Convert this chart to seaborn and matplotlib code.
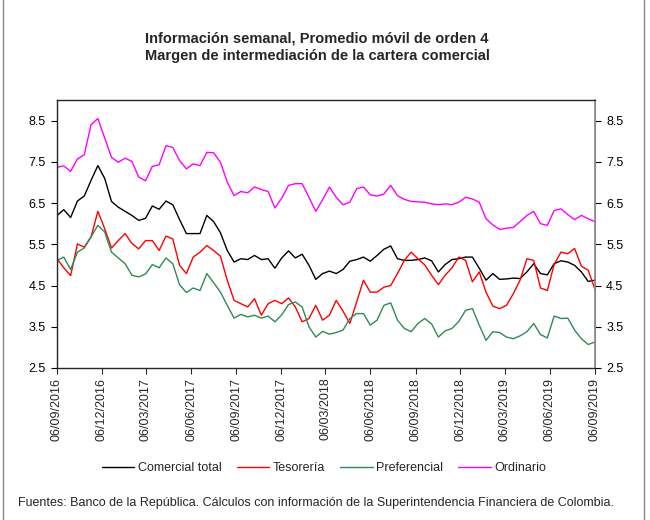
import numpy as np
import pandas as pd
import matplotlib
matplotlib.use("Agg")
import matplotlib.pyplot as plt
import matplotlib.dates as mdates
from matplotlib.lines import Line2D
from matplotlib.ticker import FormatStrFormatter
import seaborn as sns

# ---------------- data ----------------
fecha_inicio = "2016-09-06"
fecha_fin = "2019-09-06"

comercial_total = [6.20, 6.34, 6.15, 6.55, 6.67, 7.05, 7.41, 7.10, 6.54, 6.40,
                   6.30, 6.20, 6.08, 6.13, 6.43, 6.35, 6.55, 6.46, 6.10, 5.76,
                   5.76, 5.76, 6.20, 6.05, 5.78, 5.35, 5.07, 5.15, 5.13, 5.23,
                   5.13, 5.15, 4.92, 5.17, 5.34, 5.17, 5.26, 4.99, 4.65, 4.79,
                   4.85, 4.79, 4.89, 5.09, 5.13, 5.19, 5.09, 5.23, 5.38, 5.46,
                   5.15, 5.11, 5.11, 5.13, 5.17, 5.10, 4.83, 5.01, 5.13, 5.15,
                   5.19, 5.19, 4.92, 4.63, 4.79, 4.65, 4.66, 4.68, 4.67, 4.83,
                   5.03, 4.79, 4.76, 5.03, 5.10, 5.07, 4.99, 4.83, 4.60, 4.63]

tesoreria = [5.15, 4.93, 4.74, 5.51, 5.43, 5.68, 6.30, 5.88, 5.41, 5.59,
             5.76, 5.52, 5.39, 5.59, 5.59, 5.35, 5.70, 5.63, 4.99, 4.79,
             5.19, 5.31, 5.47, 5.35, 5.21, 4.63, 4.14, 4.06, 3.98, 4.18,
             3.78, 4.06, 4.14, 4.06, 4.20, 3.98, 3.62, 3.70, 4.02, 3.66,
             3.78, 4.14, 3.88, 3.58, 4.10, 4.63, 4.34, 4.34, 4.46, 4.50,
             4.79, 5.11, 5.31, 5.15, 5.00, 4.75, 4.52, 4.75, 4.93, 5.19,
             5.11, 4.59, 4.83, 4.34, 4.00, 3.94, 4.02, 4.30, 4.63, 5.15,
             5.11, 4.44, 4.38, 5.01, 5.31, 5.27, 5.40, 4.97, 4.87, 4.41]

preferencial = [5.11, 5.19, 4.89, 5.31, 5.41, 5.68, 5.96, 5.80, 5.31, 5.17,
                5.03, 4.75, 4.71, 4.78, 5.01, 4.93, 5.17, 5.03, 4.52, 4.33,
                4.44, 4.38, 4.79, 4.57, 4.34, 4.02, 3.71, 3.80, 3.74, 3.78,
                3.71, 3.76, 3.62, 3.79, 4.04, 4.10, 3.98, 3.50, 3.25, 3.39,
                3.32, 3.36, 3.42, 3.70, 3.82, 3.82, 3.54, 3.66, 4.02, 4.08,
                3.66, 3.46, 3.38, 3.58, 3.70, 3.57, 3.25, 3.40, 3.46, 3.63,
                3.90, 3.94, 3.54, 3.17, 3.38, 3.36, 3.25, 3.21, 3.28, 3.38,
                3.58, 3.31, 3.23, 3.76, 3.70, 3.71, 3.42, 3.21, 3.07, 3.13]

ordinario = [7.37, 7.40, 7.27, 7.57, 7.67, 8.40, 8.55, 8.08, 7.61, 7.49,
             7.59, 7.51, 7.13, 7.04, 7.39, 7.43, 7.89, 7.85, 7.53, 7.33,
             7.45, 7.41, 7.73, 7.72, 7.49, 7.01, 6.68, 6.78, 6.75, 6.89,
             6.83, 6.78, 6.38, 6.62, 6.93, 6.97, 6.97, 6.64, 6.30, 6.58,
             6.89, 6.64, 6.46, 6.52, 6.85, 6.89, 6.70, 6.67, 6.72, 6.93,
             6.68, 6.59, 6.54, 6.53, 6.52, 6.48, 6.46, 6.48, 6.46, 6.52,
             6.64, 6.60, 6.52, 6.12, 5.97, 5.86, 5.89, 5.91, 6.05, 6.20,
             6.30, 6.00, 5.96, 6.32, 6.36, 6.22, 6.10, 6.20, 6.12, 6.05]

series_nombres = ["Comercial total", "Tesorería", "Preferencial", "Ordinario"]
series_colores = ["#000000", "#FF0000", "#2E8B57", "#FF00FF"]
y_ticks = [2.5, 3.5, 4.5, 5.5, 6.5, 7.5, 8.5]

titulo = ("Información semanal, Promedio móvil de orden 4\n"
          "Margen de intermediación de la cartera comercial")
fuente = ("Fuentes: Banco de la República. Cálculos con información de la "
          "Superintendencia Financiera de Colombia.")

# ---------------- build long table ----------------
fechas = pd.date_range(fecha_inicio, fecha_fin, periods=len(comercial_total))
valores = [comercial_total, tesoreria, preferencial, ordinario]
df = pd.concat([pd.DataFrame({"fecha": fechas, "valor": v, "serie": n})
                for n, v in zip(series_nombres, valores)], ignore_index=True)

# ---------------- plot ----------------
sns.set_style("white")
plt.rcParams["font.family"] = ["Liberation Sans", "DejaVu Sans"]

fig = plt.figure(figsize=(6.5, 5.2), dpi=100)
ax = fig.add_axes([57 / 650, 1 - 368 / 520, (595 - 57) / 650, (368 - 100) / 520])

sns.lineplot(data=df, x="fecha", y="valor", hue="serie", hue_order=series_nombres,
             palette=series_colores, linewidth=1.0, ax=ax, legend=True)

handles, labels = ax.get_legend_handles_labels()
ax.get_legend().remove()

ax.set_xlim(pd.Timestamp(fecha_inicio), pd.Timestamp(fecha_fin))
ax.set_ylim(2.5, 9.0)
ax.set_yticks(y_ticks)
ax.yaxis.set_major_formatter(FormatStrFormatter("%.1f"))
xt = [pd.Timestamp(y, m, 6) for y in range(2016, 2020) for m in (3, 6, 9, 12)]
xt = [t for t in xt if pd.Timestamp(fecha_inicio) <= t <= pd.Timestamp(fecha_fin)]
ax.set_xticks(xt)
ax.xaxis.set_major_formatter(mdates.DateFormatter("%d/%m/%Y"))
ax.set_xlabel("")
ax.set_ylabel("")

ax.tick_params(axis="y", direction="out", length=4, width=0.8, labelsize=9,
               left=True, pad=4, colors="black")
ax.tick_params(axis="x", direction="out", length=4, width=0.8, labelsize=9,
               bottom=True, pad=3, labelrotation=90)
for s in ["left", "bottom", "top"]:
    ax.spines[s].set_color("black")
    ax.spines[s].set_linewidth(0.9)
ax.spines["right"].set_color("#888888")

ax2 = ax.twinx()
ax2.set_ylim(ax.get_ylim())
ax2.set_yticks(y_ticks)
ax2.yaxis.set_major_formatter(FormatStrFormatter("%.1f"))
ax2.tick_params(axis="y", direction="out", length=4, width=0.8, labelsize=9,
                right=True, pad=4, colors="black")
ax2.spines["right"].set_color("#888888")
ax2.spines["right"].set_linewidth(1.2)
ax2.grid(False)

fig.text(317 / 650, 1 - 47 / 520, titulo, ha="center", va="center",
         fontsize=10.5, fontweight="bold", linespacing=1.3)

fig.legend(handles, labels, loc="center", bbox_to_anchor=(324 / 650, 1 - 468 / 520),
           ncol=4, frameon=False, fontsize=9, handlelength=2.6,
           handletextpad=0.3, columnspacing=1.2)

fig.text(18 / 650, 1 - 503 / 520, fuente, ha="left", va="center", fontsize=9)

fig.add_artist(Line2D([3 / 650, 3 / 650], [0, 1], transform=fig.transFigure,
                      color="#888888", lw=1))
fig.add_artist(Line2D([644 / 650, 644 / 650], [0, 1], transform=fig.transFigure,
                      color="#888888", lw=1))

fig.savefig("out.png", dpi=100)
